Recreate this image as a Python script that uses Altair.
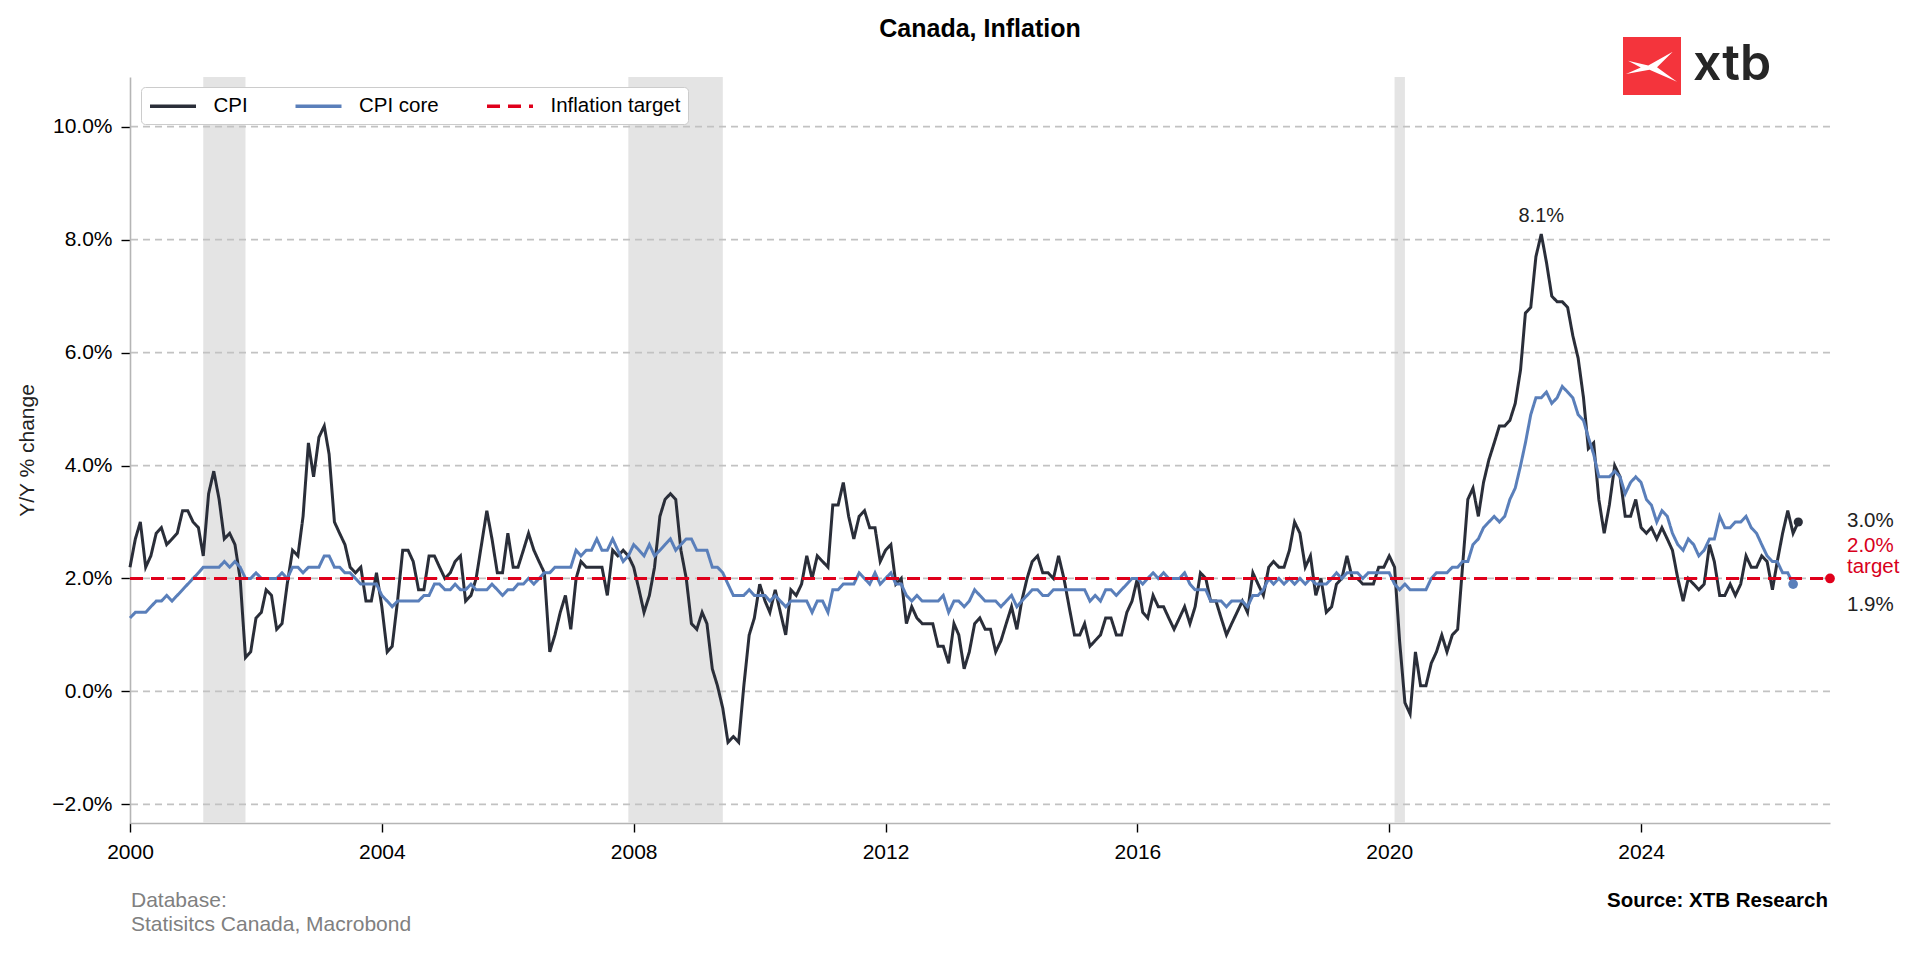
import altair as alt
import pandas as pd

# ---------------- data ----------------
start_month = "2000-01-01"

cpi = [
    2.2, 2.7, 3.0, 2.2, 2.4, 2.8, 2.9, 2.6, 2.7, 2.8, 3.2, 3.2,   # 2000
    3.0, 2.9, 2.4, 3.5, 3.9, 3.4, 2.7, 2.8, 2.6, 2.0, 0.6, 0.7,   # 2001
    1.3, 1.4, 1.8, 1.7, 1.1, 1.2, 1.9, 2.5, 2.4, 3.1, 4.4, 3.8,   # 2002
    4.5, 4.7, 4.2, 3.0, 2.8, 2.6, 2.2, 2.1, 2.2, 1.6, 1.6, 2.1,   # 2003
    1.5, 0.7, 0.8, 1.6, 2.5, 2.5, 2.3, 1.8, 1.8, 2.4, 2.4, 2.2,   # 2004
    2.0, 2.1, 2.3, 2.4, 1.6, 1.7, 2.0, 2.6, 3.2, 2.7, 2.1, 2.1,   # 2005
    2.8, 2.2, 2.2, 2.5, 2.8, 2.5, 2.3, 2.1, 0.7, 1.0, 1.4, 1.7,   # 2006
    1.1, 2.0, 2.3, 2.2, 2.2, 2.2, 2.2, 1.7, 2.5, 2.4, 2.5, 2.4,   # 2007
    2.2, 1.8, 1.4, 1.7, 2.2, 3.1, 3.4, 3.5, 3.4, 2.5, 2.0, 1.2,   # 2008
    1.1, 1.4, 1.2, 0.4, 0.1, -0.3, -0.9, -0.8, -0.9, 0.1, 1.0, 1.3,  # 2009
    1.9, 1.6, 1.4, 1.8, 1.4, 1.0, 1.8, 1.7, 1.9, 2.4, 2.0, 2.4,   # 2010
    2.3, 2.2, 3.3, 3.3, 3.7, 3.1, 2.7, 3.1, 3.2, 2.9, 2.9, 2.3,   # 2011
    2.5, 2.6, 1.9, 2.0, 1.2, 1.5, 1.3, 1.2, 1.2, 1.2, 0.8, 0.8,   # 2012
    0.5, 1.2, 1.0, 0.4, 0.7, 1.2, 1.3, 1.1, 1.1, 0.7, 0.9, 1.2,   # 2013
    1.5, 1.1, 1.6, 2.0, 2.3, 2.4, 2.1, 2.1, 2.0, 2.4, 2.0, 1.5,   # 2014
    1.0, 1.0, 1.2, 0.8, 0.9, 1.0, 1.3, 1.3, 1.0, 1.0, 1.4, 1.6,   # 2015
    2.0, 1.4, 1.3, 1.7, 1.5, 1.5, 1.3, 1.1, 1.3, 1.5, 1.2, 1.5,   # 2016
    2.1, 2.0, 1.6, 1.6, 1.3, 1.0, 1.2, 1.4, 1.6, 1.4, 2.1, 1.9,   # 2017
    1.7, 2.2, 2.3, 2.2, 2.2, 2.5, 3.0, 2.8, 2.2, 2.4, 1.7, 2.0,   # 2018
    1.4, 1.5, 1.9, 2.0, 2.4, 2.0, 2.0, 1.9, 1.9, 1.9, 2.2, 2.2,   # 2019
    2.4, 2.2, 0.9, -0.2, -0.4, 0.7, 0.1, 0.1, 0.5, 0.7, 1.0, 0.7,  # 2020
    1.0, 1.1, 2.2, 3.4, 3.6, 3.1, 3.7, 4.1, 4.4, 4.7, 4.7, 4.8,   # 2021
    5.1, 5.7, 6.7, 6.8, 7.7, 8.1, 7.6, 7.0, 6.9, 6.9, 6.8, 6.3,   # 2022
    5.9, 5.2, 4.3, 4.4, 3.4, 2.8, 3.3, 4.0, 3.8, 3.1, 3.1, 3.4,   # 2023
    2.9, 2.8, 2.9, 2.7, 2.9, 2.7, 2.5, 2.0, 1.6, 2.0, 1.9, 1.8,   # 2024
    1.9, 2.6, 2.3, 1.7, 1.7, 1.9, 1.7, 1.9, 2.4, 2.2, 2.2, 2.4,   # 2025
    2.3, 1.8, 2.3, 2.8, 3.2, 2.8, 3.0,                            # 2026
]

cpi_core = [
    1.3, 1.4, 1.4, 1.4, 1.5, 1.6, 1.6, 1.7, 1.6, 1.7, 1.8, 1.9,   # 2000
    2.0, 2.1, 2.2, 2.2, 2.2, 2.2, 2.3, 2.2, 2.3, 2.2, 2.0, 2.0,   # 2001
    2.1, 2.0, 2.0, 2.0, 2.0, 2.1, 2.0, 2.2, 2.2, 2.1, 2.2, 2.2,   # 2002
    2.2, 2.4, 2.4, 2.2, 2.2, 2.1, 2.1, 2.0, 1.9, 1.9, 1.9, 1.9,   # 2003
    1.7, 1.6, 1.5, 1.6, 1.6, 1.6, 1.6, 1.6, 1.7, 1.7, 1.9, 1.9,   # 2004
    1.8, 1.8, 1.9, 1.8, 1.8, 1.9, 1.8, 1.8, 1.8, 1.9, 1.8, 1.7,   # 2005
    1.8, 1.8, 1.9, 1.9, 2.0, 1.9, 2.0, 2.1, 2.1, 2.2, 2.2, 2.2,   # 2006
    2.2, 2.5, 2.4, 2.5, 2.5, 2.7, 2.5, 2.5, 2.7, 2.5, 2.3, 2.4,   # 2007
    2.6, 2.5, 2.4, 2.6, 2.4, 2.5, 2.6, 2.7, 2.5, 2.6, 2.7, 2.7,   # 2008
    2.5, 2.5, 2.5, 2.2, 2.2, 2.1, 1.9, 1.7, 1.7, 1.7, 1.8, 1.7,   # 2009
    1.7, 1.7, 1.6, 1.7, 1.6, 1.5, 1.6, 1.6, 1.6, 1.6, 1.4, 1.6,   # 2010
    1.6, 1.4, 1.8, 1.8, 1.9, 1.9, 1.9, 2.1, 2.0, 1.9, 2.1, 1.9,   # 2011
    2.0, 2.1, 1.9, 1.9, 1.7, 1.6, 1.7, 1.6, 1.6, 1.6, 1.6, 1.7,   # 2012
    1.4, 1.6, 1.6, 1.5, 1.6, 1.8, 1.7, 1.6, 1.6, 1.6, 1.5, 1.6,   # 2013
    1.7, 1.5, 1.6, 1.7, 1.8, 1.8, 1.7, 1.7, 1.8, 1.8, 1.8, 1.8,   # 2014
    1.8, 1.8, 1.8, 1.6, 1.7, 1.6, 1.8, 1.8, 1.7, 1.8, 1.9, 2.0,   # 2015
    2.0, 1.9, 2.0, 2.1, 2.0, 2.1, 2.0, 2.0, 2.0, 2.1, 1.9, 1.8,   # 2016
    1.8, 1.8, 1.6, 1.6, 1.6, 1.5, 1.6, 1.6, 1.6, 1.5, 1.7, 1.7,   # 2017
    1.8, 2.0, 1.9, 2.0, 1.9, 2.0, 1.9, 2.0, 1.9, 2.0, 1.9, 1.9,   # 2018
    1.9, 2.0, 2.1, 2.0, 2.1, 2.1, 2.1, 2.0, 2.1, 2.1, 2.1, 2.1,   # 2019
    2.1, 1.9, 1.8, 1.9, 1.8, 1.8, 1.8, 1.8, 2.0, 2.1, 2.1, 2.1,   # 2020
    2.2, 2.2, 2.3, 2.3, 2.6, 2.7, 2.9, 3.0, 3.1, 3.0, 3.1, 3.4,   # 2021
    3.6, 4.0, 4.4, 4.9, 5.2, 5.2, 5.3, 5.1, 5.2, 5.4, 5.3, 5.2,   # 2022
    4.9, 4.8, 4.5, 4.2, 3.8, 3.8, 3.8, 3.9, 3.8, 3.5, 3.7, 3.8,   # 2023
    3.7, 3.4, 3.3, 3.0, 3.2, 3.1, 2.8, 2.6, 2.5, 2.7, 2.6, 2.4,   # 2024
    2.5, 2.7, 2.7, 3.1, 2.9, 2.9, 3.0, 3.0, 3.1, 2.9, 2.8, 2.6,   # 2025
    2.4, 2.3, 2.3, 2.1, 2.1, 1.9,                                 # 2026
]

inflation_target = 2.0
axis_start = "2000-01-01"
axis_end = "2027-01-01"

recession_start = ["2001-03-01", "2007-12-01", "2020-02-01"]
recession_end = ["2001-11-01", "2009-06-01", "2020-04-01"]

y_ticks = [-2, 0, 2, 4, 6, 8, 10]
x_tick_years = [2000, 2004, 2008, 2012, 2016, 2020, 2024]

series_names = ["CPI", "CPI core", "Inflation target"]
series_colors = ["#2a2e39", "#5a7fba", "#e0001b"]
series_dashes = [[1, 0], [1, 0], [13, 8]]

# ---------------- layout constants ----------------
FONT = "Liberation Sans"
W, H = 1700, 746
Y_MIN, Y_MAX = -2.33, 10.88
RED_TEXT = "#d8001c"

cpi_dates = pd.date_range(start_month, periods=len(cpi), freq="MS")
core_dates = pd.date_range(start_month, periods=len(cpi_core), freq="MS")
t0, t1 = pd.Timestamp(axis_start), pd.Timestamp(axis_end)

lines_df = pd.concat([
    pd.DataFrame({"date": cpi_dates, "value": cpi, "series": series_names[0]}),
    pd.DataFrame({"date": core_dates, "value": cpi_core, "series": series_names[1]}),
    pd.DataFrame({"date": [t0, t1], "value": [inflation_target] * 2, "series": series_names[2]}),
], ignore_index=True)

rec_df = pd.DataFrame({"start": pd.to_datetime(recession_start), "end": pd.to_datetime(recession_end)})
grid_df = pd.DataFrame({"g": y_ticks})


def dt(ts):
    return alt.DateTime(year=ts.year, month=ts.month, date=ts.day)


x_scale = alt.Scale(domain=[dt(t0), dt(t1)])
y_scale = alt.Scale(domain=[Y_MIN, Y_MAX], nice=False, zero=False)

x_axis = alt.Axis(
    values=[alt.DateTime(year=y, month=1, date=1) for y in x_tick_years],
    format="%Y", labelFont=FONT, labelFontSize=21, labelColor="black",
    labelPadding=9, labelFlush=False, tickSize=9, tickWidth=1.4, tickColor="black",
    domainColor="#b5b5b5", domainWidth=1.6, grid=False, title=None,
)
y_axis = alt.Axis(
    values=y_ticks, labelExpr="format(datum.value, '.1f') + '%'",
    labelFont=FONT, labelFontSize=21, labelColor="black", labelPadding=9,
    tickSize=9, tickWidth=1.4, tickColor="black",
    domainColor="#b5b5b5", domainWidth=1.6, grid=False,
    title="Y/Y % change", titleFont=FONT, titleFontSize=21, titleFontWeight="normal",
    titleColor="#222222", titleX=-103, titleY=H / 2, titleAngle=270,
    titleAlign="center", titleBaseline="middle",
)


def X(field):
    return alt.X(f"{field}:T", scale=x_scale, axis=x_axis, title=None)


def Y(field):
    return alt.Y(f"{field}:Q", scale=y_scale, axis=y_axis, title="Y/Y % change")


legend = alt.Legend(
    title=None, orient="none", legendX=11, legendY=10, direction="horizontal",
    labelFont=FONT, labelFontSize=20.5, labelColor="black",
    symbolType="M-1,0H3.6", symbolSize=400, symbolStrokeWidth=3.4,
    labelOffset=41.5, columnPadding=40.5, padding=7,
    fillColor="white", strokeColor="#cccccc", cornerRadius=4,
)

shade = alt.Chart(rec_df).mark_rect(color="#e4e4e4").encode(x=X("start"), x2="end:T")

grid = alt.Chart(grid_df).mark_rule(color="#c2c2c2", strokeWidth=1.8, strokeDash=[7, 5]).encode(y=Y("g"))

lines = alt.Chart(lines_df).mark_line(strokeWidth=3.0).encode(
    x=X("date"), y=Y("value"),
    color=alt.Color("series:N", scale=alt.Scale(domain=series_names, range=series_colors), legend=legend),
    strokeDash=alt.StrokeDash("series:N", scale=alt.Scale(domain=series_names, range=series_dashes), legend=legend),
)


def dot(date, value, color, size):
    return alt.Chart(pd.DataFrame({"date": [date], "value": [value]})).mark_circle(
        color=color, opacity=1, size=size).encode(x=X("date"), y=Y("value"))


dots = [
    dot(cpi_dates[-1], cpi[-1], series_colors[0], 85),
    dot(core_dates[-1], cpi_core[-1], series_colors[1], 95),
    dot(t1, inflation_target, series_colors[2], 95),
]


def side_label(value, text, color, dy):
    return alt.Chart(pd.DataFrame({"value": [value], "t": [text]})).mark_text(
        align="left", baseline="alphabetic", font=FONT, fontSize=20.5, color=color, dy=dy
    ).encode(x=alt.value(W + 17), y=Y("value"), text="t:N")


side = [
    side_label(cpi[-1], f"{cpi[-1]:.1f}%", "#222222", 5),
    side_label(inflation_target, f"{inflation_target:.1f}%", RED_TEXT, -26),
    side_label(inflation_target, "target", RED_TEXT, -5),
    side_label(cpi_core[-1], f"{cpi_core[-1]:.1f}%", "#222222", 27),
]

peak_i = max(range(len(cpi)), key=lambda i: cpi[i])
peak = alt.Chart(pd.DataFrame({"date": [cpi_dates[peak_i]], "value": [cpi[peak_i]],
                               "t": [f"{cpi[peak_i]:.1f}%"]})).mark_text(
    align="center", baseline="alphabetic", font=FONT, fontSize=20, color="#222222", dy=-12
).encode(x=X("date"), y=Y("value"), text="t:N")


def free_text(text, x, y, **kw):
    return alt.Chart(pd.DataFrame({"t": [text]})).mark_text(font=FONT, baseline="alphabetic", **kw).encode(
        x=alt.value(x), y=alt.value(y), text="t:N")


title_txt = free_text("Canada, Inflation", W / 2, -40, align="center", fontSize=25,
                      fontWeight="bold", color="black")

footer = [
    free_text("Database:", 1, 830, align="left", fontSize=21, color="#808080"),
    free_text("Statisitcs Canada, Macrobond", 1, 854, align="left", fontSize=21, color="#808080"),
    free_text("Source: XTB Research", W - 2, 830, align="right", fontSize=20.5, fontWeight="bold", color="black"),
]

one = pd.DataFrame({"k": [0]})
logo_box = alt.Chart(one).mark_rect(color="#f4343c").encode(
    x=alt.value(1493), x2=alt.value(1551), y=alt.value(-40), y2=alt.value(18))
logo_x = alt.Chart(one).mark_point(
    shape="M-0.96,-0.21L-0.15,-0.02L0.83,-0.57L0.2,0.05L1.0,0.63L-0.1,0.15L-1.04,0.32L-0.45,0.06Z",
    filled=True, color="white", opacity=1, size=2500).encode(x=alt.value(1522), y=alt.value(-11))
logo_txt = alt.Chart(pd.DataFrame({"t": ["xtb"]})).mark_text(
    font="Inter", fontWeight=600, fontSize=50, color="#262626", align="left", baseline="alphabetic"
).encode(x=alt.value(1563), y=alt.value(3), text="t:N")

chart = alt.layer(
    shade, grid, lines, *dots, *side, peak, title_txt, *footer, logo_box, logo_x, logo_txt
).properties(
    width=W, height=H,
    padding={"left": 122, "top": 69, "right": 80, "bottom": 120},
    autosize=alt.AutoSizeParams(type="none"),
).configure_view(strokeWidth=0)

chart.save("out.html", embed_options={"renderer": "svg", "actions": False})
